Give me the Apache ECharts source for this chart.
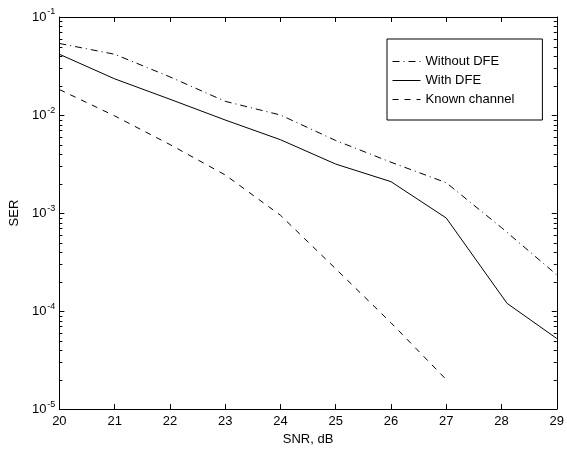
<!DOCTYPE html>
<html>
<head>
<meta charset="utf-8">
<script src="https://cdn.jsdelivr.net/npm/echarts@6/dist/echarts.min.js"></script>
<style>
html,body{margin:0;padding:0;background:#fff;}
#chart{width:567px;height:451px;}
</style>
</head>
<body>
<div id="chart"></div>
<script>
// ---- data ----
var snrWithout = [20, 21, 22, 23, 24, 25, 26, 27, 28, 29];
var serWithout = [0.0537, 0.0417, 0.0245, 0.0138, 0.0100, 0.0055, 0.0033, 0.00204, 0.00071, 0.000234];
var snrWith = [20, 21, 22, 23, 24, 25, 26, 27, 28.1, 29];
var serWith = [0.0417, 0.0234, 0.0145, 0.0089, 0.0056, 0.00316, 0.00209, 0.00089, 0.00012, 0.0000525];
var snrKnown = [20, 21, 22, 23, 24, 25, 26, 27];
var serKnown = [0.0182, 0.0098, 0.0050, 0.00245, 0.00095, 0.00027, 0.000076, 0.00002];
var seriesNames = ['Without DFE', 'With DFE', 'Known channel'];
var xTickValues = [20, 21, 22, 23, 24, 25, 26, 27, 28, 29];
var yDecadeExponents = [-5, -4, -3, -2, -1];
var minorMultipliers = [2, 3, 4, 5, 6, 7, 8, 9];

function pairs(xs, ys) { return xs.map(function (x, i) { return [x, ys[i]]; }); }

var minorTicks = [];
yDecadeExponents.slice(0, -1).forEach(function (e) {
  minorMultipliers.forEach(function (m) { minorTicks.push([20, m * Math.pow(10, e)]); });
});

var FONT = "'Liberation Sans', Arial, Helvetica, sans-serif";
var chart = echarts.init(document.getElementById('chart'), null, { renderer: 'canvas' });

var axisLineStyle = { color: '#000', width: 1 };
var option = {
  animation: false,
  backgroundColor: '#fff',
  textStyle: { fontFamily: FONT, color: '#000' },
  grid: { left: 54, right: 5.5, top: 17, bottom: 34, containLabel: false },
  legend: {
    orient: 'vertical',
    left: 387, top: 39,
    data: seriesNames,
    itemWidth: 28, itemHeight: 14, itemGap: 6,
    padding: [16, 28, 14, 5],
    borderColor: '#000', borderWidth: 1,
    backgroundColor: '#fff',
    textStyle: { fontFamily: FONT, fontSize: 13, color: '#000', padding: [0, 0, 0, 0] },
    itemStyle: { opacity: 0 },
    lineStyle: { width: 1, color: '#000' }
  },
  xAxis: [{
    type: 'value', min: 20, max: 29, interval: 1,
    name: 'SNR, dB', nameLocation: 'middle', nameGap: 19,
    nameTextStyle: { fontFamily: FONT, fontSize: 13, color: '#000' },
    axisLine: { lineStyle: axisLineStyle },
    axisTick: { inside: true, length: 5, lineStyle: axisLineStyle },
    axisLabel: { fontFamily: FONT, fontSize: 13, color: '#000', margin: 6 },
    splitLine: { show: false }
  }, {
    type: 'value', min: 20, max: 29, interval: 1, position: 'top',
    axisLine: { lineStyle: axisLineStyle },
    axisTick: { inside: true, length: 5, lineStyle: axisLineStyle },
    axisLabel: { show: false },
    splitLine: { show: false }
  }],
  yAxis: [{
    type: 'log', logBase: 10, min: 1e-5, max: 1e-1,
    name: 'SER', nameLocation: 'middle', nameGap: 33, nameRotate: 90,
    nameTextStyle: { fontFamily: FONT, fontSize: 13, color: '#000' },
    axisLine: { show: true, lineStyle: axisLineStyle },
    axisTick: { show: true, inside: true, length: 5, lineStyle: axisLineStyle },
    axisLabel: {
      margin: 4,
      formatter: function (v) {
        var e = Math.round(Math.log10(v));
        return '{b|10}{s|' + e + '}';
      },
      rich: {
        b: { fontFamily: FONT, fontSize: 13, color: '#000', verticalAlign: 'bottom', lineHeight: 13 },
        s: { fontFamily: FONT, fontSize: 9, color: '#000', verticalAlign: 'bottom', lineHeight: 9, padding: [0, 0, 7, 1] }
      }
    },
    splitLine: { show: false }
  }, {
    type: 'log', logBase: 10, min: 1e-5, max: 1e-1, position: 'right',
    axisLine: { show: true, lineStyle: axisLineStyle },
    axisTick: { show: true, inside: true, length: 5, lineStyle: axisLineStyle },
    axisLabel: { show: false },
    splitLine: { show: false }
  }],
  series: [{
    name: seriesNames[0], type: 'line', symbol: 'none', showSymbol: false,
    data: pairs(snrWithout, serWithout),
    lineStyle: { color: '#000', width: 1, type: [7, 4, 1, 4] },
    itemStyle: { color: '#000' }
  }, {
    name: seriesNames[1], type: 'line', symbol: 'none', showSymbol: false,
    data: pairs(snrWith, serWith),
    lineStyle: { color: '#000', width: 1, type: 'solid' },
    itemStyle: { color: '#000' }
  }, {
    name: seriesNames[2], type: 'line', symbol: 'none', showSymbol: false,
    data: pairs(snrKnown, serKnown),
    lineStyle: { color: '#000', width: 1, type: [6, 6] },
    itemStyle: { color: '#000' }
  }, {
    name: 'minorTicks', type: 'custom', silent: true, clip: false,
    data: minorTicks,
    encode: { x: 0, y: 1 },
    renderItem: function (params, api) {
      var v = api.value(1);
      var pl = api.coord([xTickValues[0], v]);
      var pr = api.coord([xTickValues[xTickValues.length - 1], v]);
      var y = Math.round(pl[1]) + 0.5;
      return {
        type: 'group',
        children: [
          { type: 'line', shape: { x1: pl[0], y1: y, x2: pl[0] + 3, y2: y }, style: { stroke: '#000', lineWidth: 1 } },
          { type: 'line', shape: { x1: pr[0] - 3, y1: y, x2: pr[0], y2: y }, style: { stroke: '#000', lineWidth: 1 } }
        ]
      };
    }
  }]
};
chart.setOption(option);
</script>
</body>
</html>
